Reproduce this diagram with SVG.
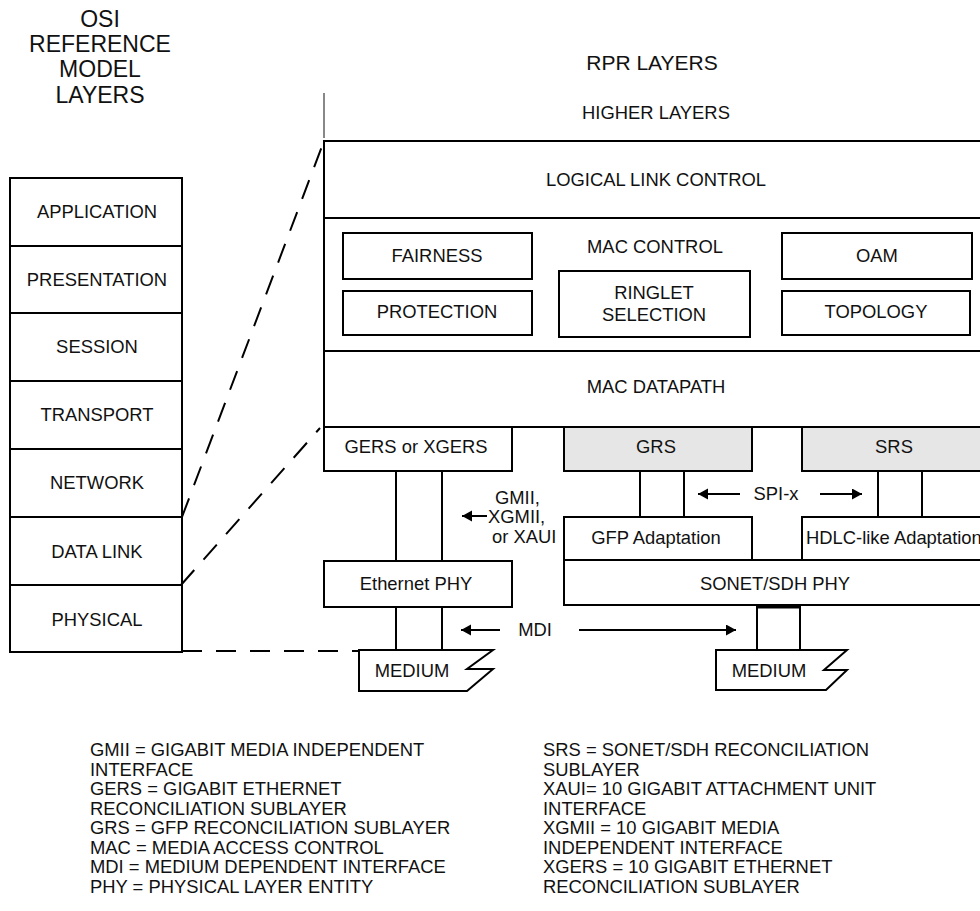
<svg xmlns="http://www.w3.org/2000/svg" width="980" height="911" viewBox="0 0 980 911">
<style>
text{font-family:"Liberation Sans",Arial,sans-serif;font-size:18.4px;fill:#111}
.c{text-anchor:middle}
.t{font-size:23px}
.b{fill:#fff;stroke:#000;stroke-width:2}
.g{fill:#e6e6e6;stroke:#000;stroke-width:2}
.l{stroke:#000;stroke-width:2;fill:none}
.d{stroke:#000;stroke-width:2;fill:none;stroke-dasharray:20 14}
.a{stroke:#000;stroke-width:2;fill:none;marker-end:url(#ah)}
</style>
<defs>
<marker id="ah" markerUnits="userSpaceOnUse" markerWidth="12" markerHeight="12" refX="10" refY="5.5" orient="auto">
<path d="M0,0 L10,5.5 L0,11 z" fill="#000"/>
</marker>
</defs>
<rect width="980" height="911" fill="#fff"/>

<g id="titles">
<text class="c t" x="100" y="27">OSI</text>
<text class="c t" x="100" y="52">REFERENCE</text>
<text class="c t" x="100" y="77">MODEL</text>
<text class="c t" x="100" y="103">LAYERS</text>
<text class="c" x="652" y="70" style="font-size:21px">RPR LAYERS</text>
</g>

<g id="osi">
<rect class="b" x="10" y="178" width="172" height="474"/>
<line class="l" x1="10" y1="246" x2="182" y2="246"/>
<line class="l" x1="10" y1="313" x2="182" y2="313"/>
<line class="l" x1="10" y1="381" x2="182" y2="381"/>
<line class="l" x1="10" y1="449" x2="182" y2="449"/>
<line class="l" x1="10" y1="517" x2="182" y2="517"/>
<line class="l" x1="10" y1="585" x2="182" y2="585"/>
<text class="c" x="97" y="218">APPLICATION</text>
<text class="c" x="97" y="286">PRESENTATION</text>
<text class="c" x="97" y="353">SESSION</text>
<text class="c" x="97" y="421">TRANSPORT</text>
<text class="c" x="97" y="489">NETWORK</text>
<text class="c" x="97" y="558">DATA LINK</text>
<text class="c" x="97" y="626">PHYSICAL</text>
</g>

<g id="higher">
<line x1="324" y1="93" x2="324" y2="138" stroke="#888" stroke-width="2"/>
<text class="c" x="656" y="119">HIGHER LAYERS</text>
</g>

<g id="mac">
<rect class="b" x="324" y="141" width="670" height="286"/>
<line class="l" x1="324" y1="218" x2="994" y2="218"/>
<line class="l" x1="324" y1="351" x2="994" y2="351"/>
<text class="c" x="656" y="186">LOGICAL LINK CONTROL</text>
<text class="c" x="655" y="253">MAC CONTROL</text>
<text class="c" x="656" y="393">MAC DATAPATH</text>
</g>
<g id="fairness"><rect class="b" x="343" y="233" width="189" height="46"/><text class="c" x="437" y="262">FAIRNESS</text></g>
<g id="protection"><rect class="b" x="343" y="291" width="189" height="44"/><text class="c" x="437" y="318">PROTECTION</text></g>
<g id="ringlet"><rect class="b" x="559" y="271" width="191" height="66"/><text class="c" x="654" y="299">RINGLET</text><text class="c" x="654" y="321">SELECTION</text></g>
<g id="oam"><rect class="b" x="782" y="233" width="190" height="46"/><text class="c" x="877" y="262">OAM</text></g>
<g id="topology"><rect class="b" x="782" y="291" width="188" height="44"/><text class="c" x="876" y="318">TOPOLOGY</text></g>

<g id="gers"><rect class="b" x="324" y="427" width="188" height="44"/><text class="c" x="416" y="453">GERS or XGERS</text></g>
<g id="grs"><rect class="g" x="564" y="427" width="188" height="44"/><text class="c" x="656" y="453">GRS</text></g>
<g id="srs"><rect class="g" x="802" y="427" width="192" height="44"/><text class="c" x="894" y="453">SRS</text></g>
<g id="gfp"><rect class="b" x="564" y="517" width="188" height="43"/><text class="c" x="656" y="544">GFP Adaptation</text></g>
<g id="hdlc"><rect class="b" x="802" y="517" width="192" height="43"/><text x="806" y="544">HDLC-like Adaptation</text></g>
<g id="sonet"><rect class="b" x="564" y="560" width="430" height="45"/><text class="c" x="775" y="590">SONET/SDH PHY</text></g>
<g id="ethphy"><rect class="b" x="324" y="561" width="188" height="46"/><text class="c" x="416" y="590">Ethernet PHY</text></g>
<g id="medium1"><path class="b" d="M359,650 L493,650 L467,669 L493,669 L467,691 L359,691 Z"/><text class="c" x="412" y="677">MEDIUM</text></g>
<g id="medium2"><path class="b" d="M716,650 L847,650 L824,670 L847,670 L826,690 L716,690 Z"/><text class="c" x="769" y="677">MEDIUM</text></g>

<g id="connectors">
<line class="l" x1="396" y1="471" x2="396" y2="561"/>
<line class="l" x1="442" y1="471" x2="442" y2="561"/>
<line class="l" x1="396" y1="607" x2="396" y2="650"/>
<line class="l" x1="442" y1="607" x2="442" y2="650"/>
<line class="l" x1="640" y1="471" x2="640" y2="517"/>
<line class="l" x1="684" y1="471" x2="684" y2="517"/>
<line class="l" x1="878" y1="471" x2="878" y2="517"/>
<line class="l" x1="922" y1="471" x2="922" y2="517"/>
<line class="l" x1="757" y1="605" x2="757" y2="650"/>
<line class="l" x1="800" y1="605" x2="800" y2="650"/>
<line x1="757" y1="607" x2="800" y2="607" stroke="#000" stroke-width="3"/>
<line class="d" x1="182" y1="517" x2="324" y2="141"/>
<line class="d" x1="181" y1="585" x2="320" y2="428"/>
<line class="d" x1="182" y1="651" x2="359" y2="651"/>
<line class="a" x1="487" y1="516" x2="462" y2="516"/>
<line class="a" x1="740" y1="494" x2="698" y2="494"/>
<line class="a" x1="820" y1="494" x2="862" y2="494"/>
<line class="a" x1="500" y1="630" x2="461" y2="630"/>
<line class="a" x1="579" y1="630" x2="736" y2="630"/>
</g>

<g id="labels">
<text x="495" y="504">GMII,</text>
<text x="488" y="523">XGMII,</text>
<text x="492" y="543">or XAUI</text>
<text class="c" x="776" y="500">SPI-x</text>
<text class="c" x="535" y="636">MDI</text>
</g>

<g id="legend">
<text x="90" y="756">GMII = GIGABIT MEDIA INDEPENDENT</text>
<text x="90" y="775.5">INTERFACE</text>
<text x="90" y="795">GERS = GIGABIT ETHERNET</text>
<text x="90" y="814.5">RECONCILIATION SUBLAYER</text>
<text x="90" y="834">GRS = GFP RECONCILIATION SUBLAYER</text>
<text x="90" y="853.5">MAC = MEDIA ACCESS CONTROL</text>
<text x="90" y="873">MDI = MEDIUM DEPENDENT INTERFACE</text>
<text x="90" y="892.5">PHY = PHYSICAL LAYER ENTITY</text>
<text x="543" y="756">SRS = SONET/SDH RECONCILIATION</text>
<text x="543" y="775.5">SUBLAYER</text>
<text x="543" y="795">XAUI= 10 GIGABIT ATTACHMENT UNIT</text>
<text x="543" y="814.5">INTERFACE</text>
<text x="543" y="834">XGMII = 10 GIGABIT MEDIA</text>
<text x="543" y="853.5">INDEPENDENT INTERFACE</text>
<text x="543" y="873">XGERS = 10 GIGABIT ETHERNET</text>
<text x="543" y="892.5">RECONCILIATION SUBLAYER</text>
</g>
</svg>
